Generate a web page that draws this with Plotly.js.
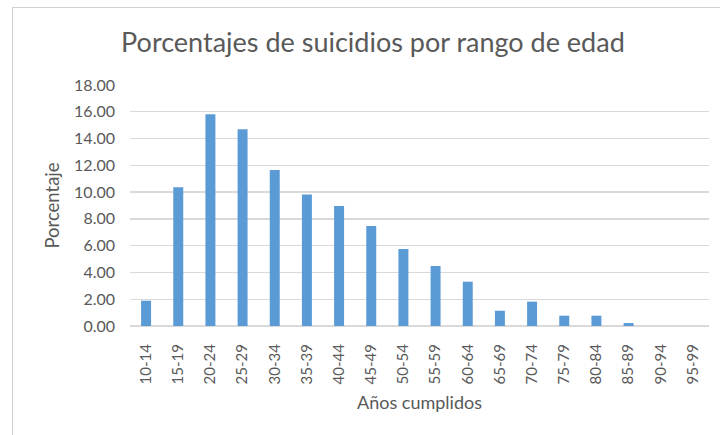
<!DOCTYPE html>
<html>
<head>
<meta charset="utf-8">
<script src="https://cdn.plot.ly/plotly-3.0.1.min.js"></script>
<style>
  html, body { margin: 0; padding: 0; background: #ffffff; overflow: hidden; }
  #frame { position: absolute; left: 12px; top: 7px; width: 720px; height: 440px;
           border-left: 1.5px solid #d0d0d0; border-top: 1.5px solid #d0d0d0; pointer-events: none; }
  #chart { position: absolute; left: 0; top: 0; width: 720px; height: 435px; }
</style>
</head>
<body>
<div id="chart"></div>
<div id="frame"></div>
<script>
const categories = ["10-14","15-19","20-24","25-29","30-34","35-39","40-44","45-49","50-54",
                    "55-59","60-64","65-69","70-74","75-79","80-84","85-89","90-94","95-99"];
const percentages = [1.89, 10.36, 15.81, 14.69, 11.65, 9.83, 8.96, 7.47, 5.75,
                     4.48, 3.31, 1.14, 1.82, 0.77, 0.77, 0.22, 0.0, 0.0];
const yTicks = [0, 2, 4, 6, 8, 10, 12, 14, 16, 18];

const fontFam = "Lato, 'Open Sans', sans-serif";
const grey = "#595959";

Plotly.newPlot("chart", [{
  type: "bar",
  x: categories,
  y: percentages,
  marker: { color: "#5b9bd5" },
  hoverinfo: "x+y"
}], {
  width: 720, height: 435,
  margin: { l: 130, r: 11, t: 85, b: 109 },
  paper_bgcolor: "#ffffff",
  plot_bgcolor: "#ffffff",
  bargap: 0.69,
  showlegend: false,
  title: {
    text: "Porcentajes de suicidios por rango de edad",
    font: { family: fontFam, size: 27, color: grey },
    x: 0.518, xref: "container", xanchor: "center",
    y: 0.903, yref: "container", yanchor: "middle"
  },
  xaxis: {
    type: "category",
    tickangle: -90,
    tickfont: { family: fontFam, size: 15, color: grey },
    showgrid: false,
    showline: false,
    ticks: "",
    ticklabelstandoff: 14,
    title: { text: "Años cumplidos", font: { family: fontFam, size: 18, color: grey }, standoff: 13 }
  },
  yaxis: {
    range: [0, 18],
    tickvals: yTicks,
    tickformat: ".2f",
    tickfont: { family: fontFam, size: 16, color: grey },
    gridcolor: "#d9d9d9",
    gridwidth: 1.3,
    zeroline: true,
    zerolinecolor: "#d9d9d9",
    zerolinewidth: 1.3,
    showline: false,
    ticks: "",
    ticklabelstandoff: 14,
    title: { text: "Porcentaje", font: { family: fontFam, size: 18.5, color: grey }, standoff: 9 }
  }
}, { displayModeBar: false, staticPlot: true });
</script>
</body>
</html>
